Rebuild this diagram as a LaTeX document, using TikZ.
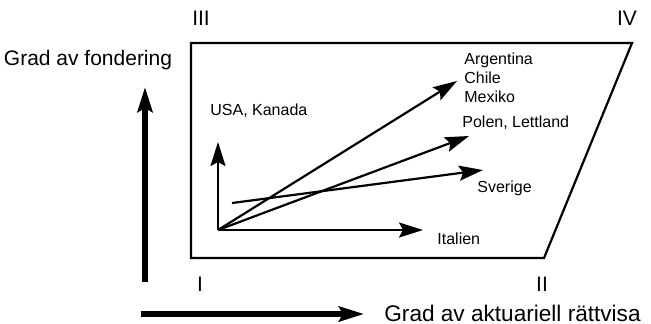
\documentclass[tikz,border=0pt]{standalone}
\usepackage{fontspec}
\setmainfont{Liberation Sans}
\usetikzlibrary{arrows.meta}

\tikzset{
  land/.style={font=\fontsize{8}{9.6}\selectfont, anchor=west, inner sep=0pt},
  axistext/.style={font=\fontsize{10.5}{12}\selectfont, inner sep=0pt},
  vec/.style={line width=1.1pt, -{Stealth[length=12pt,width=7.5pt,inset=2pt]}},
  bigvec/.style={line width=2.6pt, -{Stealth[length=12.5pt,width=7.5pt,inset=2pt]}}
}

\begin{document}
\begin{tikzpicture}[x=0.5pt,y=-0.5pt]
                \useasboundingbox (0,0) rectangle (651,323);
                % the area
                \draw[line width=1.1pt] (191,43) -- (632,43) -- (544,258) -- (191,258) -- cycle;
                \node[axistext] (iii) at (201,18) {III};
                \node[axistext] (iv) at (627,18) {IV};
                \node[axistext] (i) at (200,284) {I};
                \node[axistext] (ii) at (542,284) {II};
                % countries
                \coordinate (o) at (218,230);
                \coordinate (s0) at (232,203);
                \coordinate (usa) at (218,142);
                \coordinate (arg) at (457,81);
                \coordinate (pol) at (469,136);
                \coordinate (sve) at (483,170);
                \coordinate (ita) at (423,230);
                \node[land] (usat) at (210,111) {USA, Kanada};
                \node[land, align=left] (argt) at (464,78) {Argentina\\Chile\\Mexiko};
                \node[land] (polt) at (462,123) {Polen, Lettland};
                \node[land] (svet) at (477,188) {Sverige};
                \node[land] (itat) at (437,239) {Italien};
                \draw[vec] (o) -- (usa);
                \draw[vec] (o) -- (arg);
                \draw[vec] (o) -- (pol);
                \draw[vec] (s0) -- (sve);
                \draw[vec] (o) -- (ita);
                % axes
                \node[axistext] (yl) at (88,60) {Grad av fondering};
                \node[axistext, font=\fontsize{11.3}{13}\selectfont, anchor=west] (xl) at (384,313) {Grad av aktuariell rättvisa};
                \coordinate (y0) at (145,282);
                \coordinate (y1) at (145,87);
                \coordinate (x0) at (141,314);
                \coordinate (x1) at (364,314);
                \draw[bigvec] (y0) -- (y1);
                \draw[bigvec] (x0) -- (x1);
            \end{tikzpicture}
\end{document}
